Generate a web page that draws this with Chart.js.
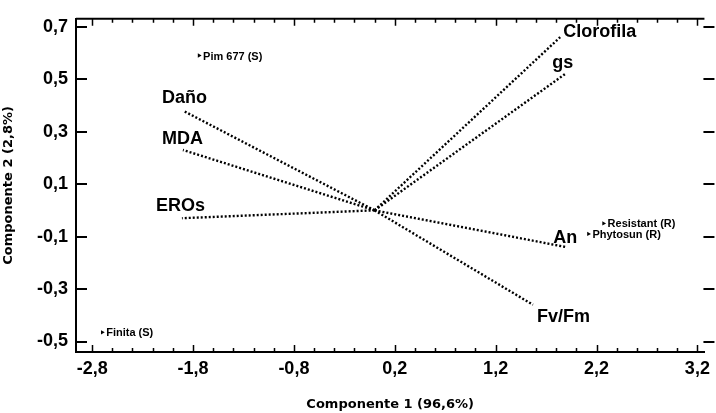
<!DOCTYPE html>
<html>
<head>
<meta charset="utf-8">
<script src="https://cdn.jsdelivr.net/npm/chart.js@4.4.1/dist/chart.umd.min.js"></script>
<style>
  html, body { margin: 0; padding: 0; background: #fff; }
  #wrap { width: 716px; height: 413px; }
</style>
</head>
<body>
<div id="wrap"><canvas id="biplot"></canvas></div>
<script>
// variables (vectors from the origin)
const variables = ["Clorofila", "gs", "Daño", "MDA", "EROs", "An", "Fv/Fm"];
const loadX = [1.84, 1.89, -1.90, -1.90, -1.91, 1.90, 1.57];
const loadY = [0.66, 0.52, 0.38, 0.23, -0.03, -0.14, -0.36];

// cultivars (scores)
const cultivars = ["Pim 677 (S)", "Finita (S)", "Resistant (R)", "Phytosun (R)"];
const scoreX = [-1.74, -2.70, 2.27, 2.12];
const scoreY = [0.59, -0.465, -0.05, -0.09];

const xTicks = [-2.8, -1.8, -0.8, 0.2, 1.2, 2.2, 3.2];
const yTicks = [-0.5, -0.3, -0.1, 0.1, 0.3, 0.5, 0.7];

// label offsets for the vector names (px)
const labelOffsets = [[3, -5], [-13, -11], [-21, -13], [-21, -11], [-26, -12], [-13, -9], [4, 12]];

const fmt = v => v.toFixed(1).replace(".", ",");

const vectorSets = variables.map((name, i) => ({
  label: name,
  data: [{ x: 0, y: 0 }, { x: loadX[i], y: loadY[i] }],
  showLine: true,
  borderColor: "#000",
  borderWidth: 2.4,
  borderDash: [2, 2],
  pointRadius: 0,
}));

const scoreSet = {
  label: "cultivares",
  data: cultivars.map((c, i) => ({ x: scoreX[i], y: scoreY[i] })),
  pointStyle: "triangle",
  rotation: 90,
  pointRadius: 2.5,
  backgroundColor: "#000",
  borderColor: "#000",
  borderWidth: 0,
};

const frame = {
  id: "frame",
  afterDraw(chart) {
    const { ctx, chartArea: a, scales: { x, y } } = chart;
    ctx.save();
    ctx.strokeStyle = "#000";
    ctx.lineWidth = 2;
    // top border
    ctx.beginPath();
    ctx.moveTo(a.left, a.top);
    ctx.lineTo(a.right, a.top);
    ctx.stroke();

    // x ticks every 0.2, longer on labelled values
    ctx.lineWidth = 1.5;
    for (let k = 0; k <= 30; k++) {
      const v = -2.8 + k * 0.2;
      const px = Math.round(x.getPixelForValue(v)) + 0.5;
      const len = k % 5 === 0 ? 7 : 4;
      ctx.beginPath();
      ctx.moveTo(px, a.bottom);
      ctx.lineTo(px, a.bottom - len);
      ctx.moveTo(px, a.top);
      ctx.lineTo(px, a.top + len);
      ctx.stroke();
    }
    // y ticks
    ctx.lineWidth = 2;
    yTicks.forEach(v => {
      const py = Math.round(y.getPixelForValue(v));
      ctx.beginPath();
      ctx.moveTo(a.left, py);
      ctx.lineTo(a.left + 11, py);
      ctx.moveTo(a.right - 1, py);
      ctx.lineTo(a.right + 10, py);
      ctx.stroke();
    });

    // vector names
    ctx.fillStyle = "#000";
    ctx.font = "bold 18px 'Liberation Sans', Arial, sans-serif";
    ctx.textAlign = "left";
    ctx.textBaseline = "middle";
    variables.forEach((name, i) => {
      const px = x.getPixelForValue(loadX[i]);
      const py = y.getPixelForValue(loadY[i]);
      ctx.fillText(name, px + labelOffsets[i][0], py + labelOffsets[i][1]);
    });

    // cultivar names
    const meta = chart.getDatasetMeta(chart.data.datasets.length - 1);
    ctx.font = "bold 11px 'Liberation Sans', Arial, sans-serif";
    cultivars.forEach((c, i) => {
      const pt = meta.data[i];
      ctx.fillText(c, pt.x + 4, pt.y + 1);
    });
    ctx.restore();
  },
};

new Chart(document.getElementById("biplot"), {
  type: "scatter",
  data: { datasets: [...vectorSets, scoreSet] },
  options: {
    responsive: true,
    maintainAspectRatio: false,
    animation: false,
    layout: { padding: { top: 15, right: 10, left: 0, bottom: 0 } },
    plugins: { legend: { display: false }, tooltip: { enabled: false } },
    scales: {
      x: {
        type: "linear",
        min: -2.96,
        max: 3.27,
        afterBuildTicks: s => { s.ticks = xTicks.map(v => ({ value: v })); },
        afterFit: s => { s.height = 61; },
        grid: { display: false, drawTicks: false },
        border: { display: true, color: "#000", width: 2 },
        ticks: {
          color: "#000",
          padding: 6,
          maxRotation: 0,
          font: { family: "'Liberation Sans', Arial, sans-serif", size: 18, weight: "bold" },
          callback: v => fmt(v),
        },
        title: {
          display: true,
          text: "Componente 1 (96,6%)",
          color: "#000",
          padding: { top: 0, bottom: 1 },
          font: { family: "'DejaVu Sans', sans-serif", size: 13, weight: "bold" },
        },
      },
      y: {
        type: "linear",
        min: -0.54,
        max: 0.73,
        afterBuildTicks: s => { s.ticks = yTicks.map(v => ({ value: v })); },
        afterFit: s => { s.width = 76; },
        grid: { display: false, drawTicks: false },
        border: { display: true, color: "#000", width: 2 },
        ticks: {
          color: "#000",
          padding: 8,
          font: { family: "'Liberation Sans', Arial, sans-serif", size: 18, weight: "bold" },
          callback: v => fmt(v),
        },
        title: {
          display: true,
          text: "Componente 2 (2,8%)",
          color: "#000",
          padding: { top: 1, bottom: 0 },
          font: { family: "'DejaVu Sans', sans-serif", size: 13, weight: "bold" },
        },
      },
    },
  },
  plugins: [frame],
});
</script>
</body>
</html>
